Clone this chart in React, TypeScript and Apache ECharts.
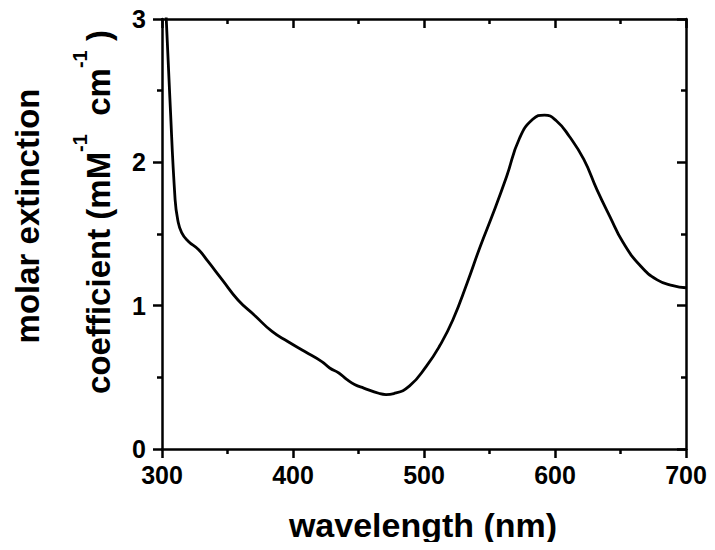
import React, { useEffect, useRef } from "react";
import * as echarts from "echarts";

const wavelength = [303, 306, 310, 312, 315, 320, 328, 335, 346, 358, 371, 384, 396, 409, 422, 428, 435, 441, 447, 454, 466, 471, 477, 489, 502, 512, 522, 533, 543, 553, 563, 573, 583, 592, 601, 611, 622, 632, 642, 652, 665, 678, 690, 700];
const extinction = [3.05, 2.45, 1.74, 1.6, 1.51, 1.45, 1.39, 1.31, 1.18, 1.04, 0.93, 0.82, 0.75, 0.68, 0.61, 0.565, 0.53, 0.485, 0.45, 0.425, 0.387, 0.38, 0.387, 0.44, 0.58, 0.72, 0.9, 1.16, 1.415, 1.65, 1.9, 2.17, 2.3, 2.33, 2.29, 2.18, 2.02, 1.81, 1.62, 1.44, 1.28, 1.18, 1.14, 1.125];

const xTitle = "wavelength (nm)";
const yTitle1 = "molar extinction";

const FONT = "'Liberation Sans', Arial, sans-serif";

export default function App() {
  const ref = useRef<HTMLDivElement>(null);
  useEffect(() => {
    const chart = echarts.init(ref.current!, null, { renderer: "svg" });
    const lineStyle = { color: "#000", width: 2.5 };
    const tickLine = { color: "#000", width: 2.5 };
    const baseX = {
      type: "value",
      min: 300,
      max: 700,
      interval: 100,
      splitLine: { show: false },
      axisLine: { show: true, onZero: false, lineStyle },
      minorSplitLine: { show: false },
    };
    const baseY = {
      type: "value",
      min: 0,
      max: 3,
      interval: 1,
      splitLine: { show: false },
      axisLine: { show: true, onZero: false, lineStyle },
      minorSplitLine: { show: false },
    };
    const labelStyle = { color: "#000", fontSize: 25, fontWeight: "bold", fontFamily: FONT };
    chart.setOption({
      animation: false,
      backgroundColor: "#fff",
      grid: { left: 162, top: 19, right: 29, bottom: 101, outerBoundsMode: "none" },
      xAxis: [
        {
          ...baseX,
          position: "bottom",
          axisTick: { show: true, inside: false, length: 9, lineStyle: tickLine },
          minorTick: { show: true, splitNumber: 2, length: 5, lineStyle: tickLine },
          axisLabel: { ...labelStyle, margin: 13 },
        },
        {
          ...baseX,
          position: "top",
          axisTick: { show: true, inside: true, length: 9, lineStyle: tickLine },
          minorTick: { show: true, splitNumber: 2, length: 5, lineStyle: tickLine },
          axisLabel: { show: false },
        },
      ],
      yAxis: [
        {
          ...baseY,
          position: "left",
          axisTick: { show: true, inside: false, length: 9, lineStyle: tickLine },
          minorTick: { show: true, splitNumber: 2, length: 5, lineStyle: tickLine },
          axisLabel: { ...labelStyle, margin: 16 },
        },
        {
          ...baseY,
          position: "right",
          axisTick: { show: true, inside: true, length: 9, lineStyle: tickLine },
          minorTick: { show: true, splitNumber: 2, length: 5, lineStyle: tickLine },
          axisLabel: { show: false },
        },
      ],
      series: [
        {
          type: "line",
          data: wavelength.map((w, i) => [w, extinction[i]]),
          showSymbol: false,
          smooth: 0.5,
          clip: true,
          lineStyle: { color: "#000", width: 2.8 },
          xAxisIndex: 0,
          yAxisIndex: 0,
        },
      ],
      graphic: [
        {
          type: "text",
          x: 423,
          y: 525,
          style: {
            text: xTitle,
            fontSize: 34,
            fontWeight: "bold",
            fontFamily: FONT,
            fill: "#000",
            align: "center",
            verticalAlign: "middle",
          },
        },
        {
          type: "text",
          x: 27,
          y: 216,
          rotation: Math.PI / 2,
          style: {
            text: yTitle1,
            fontSize: 33,
            fontWeight: "bold",
            fontFamily: FONT,
            fill: "#000",
            align: "center",
            verticalAlign: "middle",
          },
        },
        {
          type: "text",
          x: 98,
          y: 212,
          rotation: Math.PI / 2,
          style: {
            text: "{m|coefficient (mM}{s|-1}{m|  cm}{s|-1}{m| )}",
            fill: "#000",
            align: "center",
            verticalAlign: "middle",
            rich: {
              m: { fontSize: 33, fontWeight: "bold", fontFamily: FONT, fill: "#000", lineHeight: 56 },
              s: { fontSize: 20, fontWeight: "bold", fontFamily: FONT, fill: "#000", lineHeight: 18, verticalAlign: "top" },
            },
          },
        },
      ],
    });
    return () => chart.dispose();
  }, []);
  return <div ref={ref} style={{ width: 715, height: 550, margin: -8 }} />;
}
